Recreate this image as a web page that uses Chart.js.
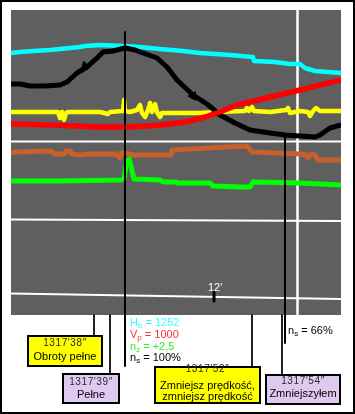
<!DOCTYPE html>
<html>
<head>
<meta charset="utf-8">
<script src="https://cdn.jsdelivr.net/npm/chart.js@4/dist/chart.umd.min.js"></script>
<style>
  html, body { margin:0; padding:0; background:#fff; }
  #wrap { position:relative; width:355px; height:414px; overflow:hidden; font-family:"Liberation Sans", Arial, sans-serif; }
  #c { position:absolute; left:0; top:0; }
  #frame { position:absolute; left:0; top:0; width:355px; height:414px; box-sizing:border-box; border:2px solid #000; pointer-events:none; }
  .t { position:absolute; white-space:nowrap; font-size:11px; line-height:12px; }
  .t sub { font-size:8px; vertical-align:-2px; line-height:0; }
  .box { position:absolute; box-sizing:border-box; border:2px solid #000; }
  .box div { position:absolute; left:0; right:0; text-align:center; white-space:nowrap; line-height:12px; }
  .tm { font-size:10px; letter-spacing:0.6px; color:#2a2a2a; }
  .lb { font-size:11px; color:#000; }
  .yel { background:#ffff00; }
  .pur { background:#dfc9f0; }
</style>
</head>
<body>
<div id="wrap">
  <canvas id="c" width="355" height="414"></canvas>
  <div id="frame"></div>

  <div class="t" style="left:208px;top:281px;color:#fff;">12′</div>

  <div class="t" style="left:130px;top:316px;color:#33ffff;">H<sub>b</sub> = 1252</div>
  <div class="t" style="left:130px;top:328px;color:#ff3030;">V<sub>p</sub> = 1000</div>
  <div class="t" style="left:130px;top:340px;color:#30ee30;">n<sub>z</sub> = +2,5</div>
  <div class="t" style="left:130px;top:351px;color:#000;">n<sub>s</sub> = 100%</div>
  <div class="t" style="left:288px;top:324px;color:#000;">n<sub>s</sub> = 66%</div>

  <div class="box yel" style="left:27px;top:335px;width:76px;height:32px;">
    <div class="tm" style="top:0px;">1317′38″</div>
    <div class="lb" style="top:13px;">Obroty pełne</div>
  </div>
  <div class="box pur" style="left:62px;top:373px;width:58px;height:31px;">
    <div class="tm" style="top:1px;">1317′39″</div>
    <div class="lb" style="top:13px;">Pełne</div>
  </div>
  <div class="box yel" style="left:154px;top:366px;width:107px;height:38px;">
    <div class="tm" style="top:-5px;">1317′52″</div>
    <div class="lb" style="top:11px;">Zmniejsz prędkość,</div>
    <div class="lb" style="top:22px;">zmniejsz prędkość</div>
  </div>
  <div class="box pur" style="left:265px;top:374px;width:76px;height:31px;">
    <div class="tm" style="top:-1px;">1317′54″</div>
    <div class="lb" style="top:11px;">Zmniejszyłem</div>
  </div>
</div>
<script>
// ---- data (time samples along the record, trace heights in record units) ----
const hbT  = [0,9,22,39,59,69,74,89,114,129,149,172,189,219,242,243,264,279,289,294,304,330];
const hbV  = [262,263,264,265,267,268,269,270,269,268,266,264,262,260,258,254,253,251,251,247,244,242];

const nsT  = [0,9,19,34,49,56,66,76,86,92,102,114,124,132,146,156,166,182,196,209,224,239,259,274,304,309,319,330];
const nsV  = [231,231,229,229,230,233,242,248,257,263,264,267,265,262,257,248,235,220,211,200,192,185,182,180,178,180,187,190];

const yT   = [0,29,47,49,51,53,55,57,89,97,99,112,113,114,119,126,129,131,134,137,139,141,144,146,149,151,169,189,204,234,236,238,241,243,259,275,277,279,289,297,299,302,305,309,330];
const yV   = [203,203,203,197,203,195,202,203,203,201,203,204,215,204,203,205,210,202,198,205,212,203,211,203,198,202,202,202,203,204,207,204,208,204,203,205,207,202,204,203,199,204,207,204,204];

const vpT  = [0,39,89,114,139,159,179,194,209,226,239,259,289,330];
const vpV  = [191,190,188,188,189,191,194,198,203,210,213,218,225,235];

const brT  = [0,4,39,44,54,55,59,61,69,79,104,107,109,110,114,122,160,161,236,241,289,295,297,300,304,307,330];
const brV  = [162,163,164,161,161,164,164,161,160,161,161,159,157,162,162,160,160,165,169,163,161,160,157,161,160,155,155];

const nzT  = [0,49,110,113,115,118,120,123,149,152,165,167,199,202,229,239,242,289,330];
const nzV  = [134,134,135,136,149,156,149,136,135,133,133,132,132,129,128,128,133,132,130];

// direction arrows on the n_s trace
const arrowT = [74,182];
const arrowV = [249,219];
const arrowRot = [225,150];

// grid / separator lines of the record
const sep1T = [0,330], sep1V = [173.5,173.5];
const sep2T = [0,330], sep2V = [95.5,94];
const sep3T = [0,330], sep3V = [21.5,16];
const vWhiteT = [286.5,286.5], vWhiteV = [305,0];

// event marker lines
const mark1T = [114,114], mark1V = [283,-51];
const mark2T = [274,274], mark2V = [180,-28];
const leadT = [[83,83],[99,99],[241,241],[271,271]];
const leadV = [[0,-20],[0,-58],[0,-51],[0,-59]];
const tickT = [203,203], tickV = [23,14];

const pts = (xs, ys) => xs.map((x,i)=>({x:x, y:ys[i]}));

function trace(xs, ys, color, w, order, clip) {
  return { data: pts(xs, ys), borderColor: color, borderWidth: w, pointRadius: 0,
           tension: 0, fill: false, order: order, borderJoinStyle: 'round', borderCapStyle: 'round',
           clip: clip === undefined ? undefined : clip };
}

const datasets = [
  trace(mark1T, mark1V, '#000', 2, 0, false),
  trace(mark2T, mark2V, '#000', 2, 0, false),
  trace(tickT, tickV, '#000', 3, 0, false),
];
leadT.forEach((t,i)=> datasets.push(Object.assign(trace(t, leadV[i], '#222', 2, 0, false), {borderCapStyle:'butt'})));
datasets.push({
  data: pts(arrowT, arrowV), showLine: false, pointStyle: 'triangle', pointRadius: 5,
  pointRotation: arrowRot, backgroundColor: '#000', borderColor: '#000', borderWidth: 1, order: 1
});
datasets.push(trace(vpT, vpV, '#ff0000', 5.5, 2));
datasets.push(trace(nsT, nsV, '#000000', 5, 3));
datasets.push(trace(yT, yV, '#ffff00', 4.5, 4));
datasets.push(trace(hbT, hbV, '#00ffff', 4.5, 4));
datasets.push(trace(nzT, nzV, '#00ff00', 5, 4));
datasets.push(trace(brT, brV, '#c8602c', 5, 4));
datasets.push(trace(sep1T, sep1V, '#ffffff', 2, 9));
datasets.push(trace(sep2T, sep2V, '#ffffff', 2, 9));
datasets.push(trace(sep3T, sep3V, '#ffffff', 2, 9));
datasets.push(Object.assign(trace(vWhiteT, vWhiteV, '#ffffff', 2.5, 9), {borderCapStyle:'butt'}));

const panelBg = {
  id: 'panelBg',
  beforeDatasetsDraw(chart) {
    const a = chart.chartArea, ctx = chart.ctx;
    ctx.save();
    ctx.fillStyle = '#5f5f5f';
    ctx.fillRect(a.left, a.top, a.right - a.left, a.bottom - a.top);
    ctx.restore();
  }
};

new Chart(document.getElementById('c'), {
  type: 'line',
  data: { datasets: datasets },
  options: {
    responsive: false,
    devicePixelRatio: 1,
    animation: false,
    events: [],
    layout: { padding: { left: 11, top: 10, right: 14, bottom: 99 } },
    scales: {
      x: { type: 'linear', min: 0, max: 330, display: false },
      y: { type: 'linear', min: 0, max: 305, display: false }
    },
    plugins: { legend: { display: false }, tooltip: { enabled: false } }
  },
  plugins: [panelBg]
});
</script>
</body>
</html>
